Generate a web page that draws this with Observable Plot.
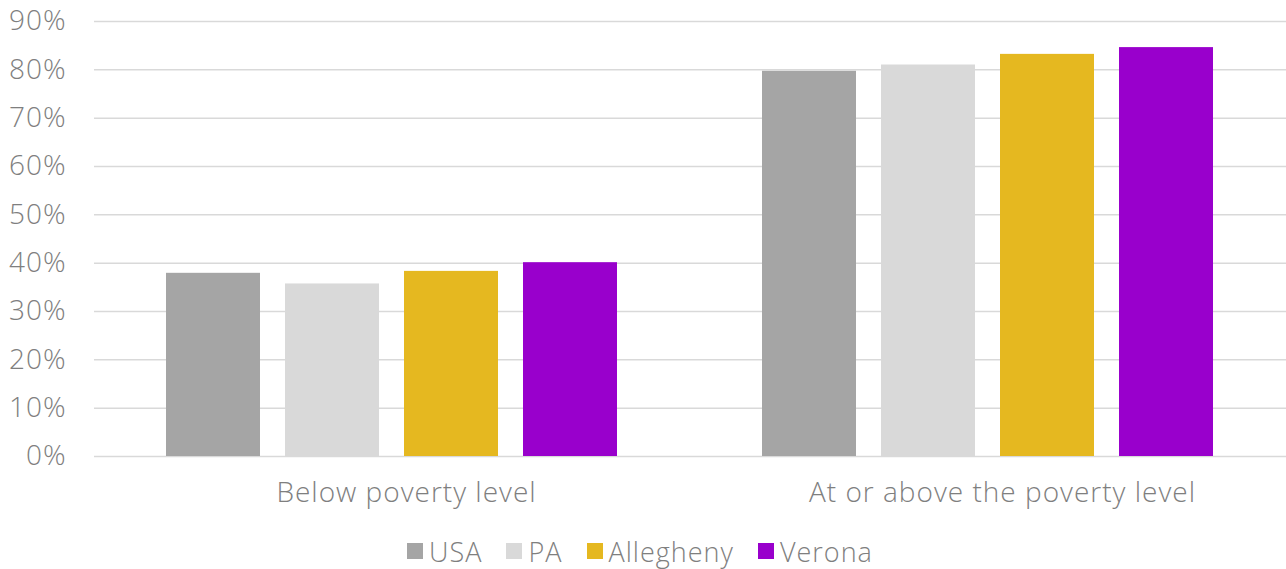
<!DOCTYPE html>
<html>
<head>
<meta charset="utf-8">
<script src="https://cdn.jsdelivr.net/npm/d3@7"></script>
<script src="https://cdn.jsdelivr.net/npm/@observablehq/plot@0.6"></script>
<style>
  body { margin: 0; background: #fff; font-family: "Open Sans", Lato, sans-serif; font-weight: 300; }
  #legend { display: flex; justify-content: center; align-items: center; gap: 24px; font-size: 27px; letter-spacing: 1px; color: #7f7f7f; height: 54px; margin-left: -6px; margin-top: 9px; }
  #legend .item { display: flex; align-items: center; gap: 6px; }
  #legend .sw { width: 16px; height: 16px; display: inline-block; }
</style>
</head>
<body>
<div id="chart"></div>
<div id="legend"></div>
<script>
const groups = ["Below poverty level", "At or above the poverty level"];
const series = ["USA", "PA", "Allegheny", "Verona"];
const colors = ["#a5a5a5", "#d9d9d9", "#e5b820", "#9900cc"];
const belowValues = [37.9, 35.7, 38.3, 40.1];
const aboveValues = [79.7, 81.0, 83.2, 84.6];
const yTicks = [0, 10, 20, 30, 40, 50, 60, 70, 80, 90];

const data = [];
series.forEach((s, i) => {
  data.push({group: groups[0], series: s, value: belowValues[i]});
  data.push({group: groups[1], series: s, value: aboveValues[i]});
});

const chart = Plot.plot({
  width: 1286,
  height: 515,
  marginTop: 21,
  marginBottom: 59,
  marginLeft: 94,
  marginRight: 0,
  style: {fontFamily: "'Open Sans', Lato, sans-serif", fontWeight: 300, fontSize: "28px", letterSpacing: "1px", color: "#7f7f7f", background: "#fff"},
  fx: {domain: groups, paddingInner: 0, paddingOuter: 0, label: null},
  x: {domain: series, paddingInner: 0.2083, paddingOuter: 0.5875, axis: null},
  y: {domain: [0, 90], label: null},
  color: {domain: series, range: colors},
  marks: [
    Plot.gridY(yTicks, {stroke: "#d9d9d9", strokeOpacity: 1, strokeWidth: 1.5}),
    Plot.barY(data, {fx: "group", x: "series", y: "value", fill: "series"}),
    Plot.axisY(yTicks, {tickSize: 0, tickPadding: 28, tickFormat: d => d + "%", fontSize: 28, fill: "#7f7f7f", label: null}),
    Plot.axisFx({anchor: "bottom", tickSize: 0, tickPadding: 26, dx: 14, fontSize: 28, fill: "#7f7f7f", label: null})
  ]
});
document.getElementById("chart").appendChild(chart);

const legend = document.getElementById("legend");
series.forEach((s, i) => {
  const item = document.createElement("div");
  item.className = "item";
  const sw = document.createElement("span");
  sw.className = "sw";
  sw.style.background = colors[i];
  const t = document.createElement("span");
  t.textContent = s;
  item.appendChild(sw);
  item.appendChild(t);
  legend.appendChild(item);
});
</script>
</body>
</html>
